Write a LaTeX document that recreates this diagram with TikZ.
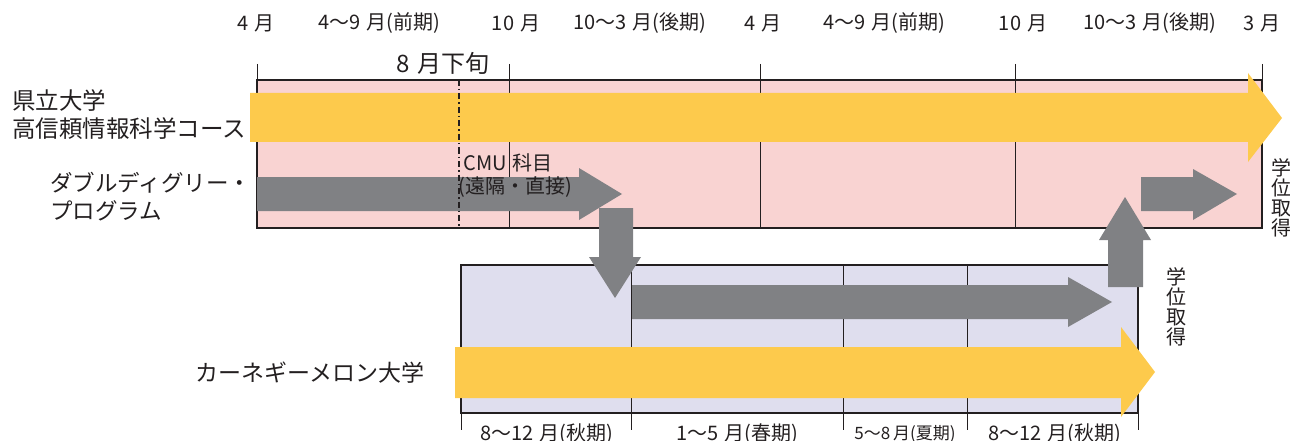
\documentclass[tikz,border=0pt]{standalone}
\usepackage{fontspec}
\setmainfont{Noto Sans CJK JP}
\definecolor{pinkbg}{HTML}{F9D3D2}
\definecolor{lavbg}{HTML}{DFDEEE}
\definecolor{yel}{HTML}{FDCA4C}
\definecolor{gry}{HTML}{808184}
\definecolor{ink}{HTML}{231F20}
\newcommand\gp{\hspace{0.3em}}
\begin{document}
\begin{tikzpicture}[x=1pt,y=-1pt,
  lbl/.style={inner sep=0pt,text=ink,font=\fontsize{20}{22}\selectfont},
  biglbl/.style={inner sep=0pt,text=ink,font=\fontsize{24}{26}\selectfont},
  sidelbl/.style={inner sep=0pt,text=ink,anchor=west,align=left,font=\fontsize{23.5}{28}\selectfont},
  vlbl/.style={inner sep=0pt,text=ink,align=center,font=\fontsize{20}{20}\selectfont},
  frame/.style={draw=ink,line width=1.8pt},
  thin/.style={draw=ink,line width=0.9pt},
  yarrow/.style={fill=yel},
  garrow/.style={fill=gry}]
\useasboundingbox (0,0) rectangle (1290,441);

% top month labels
\node[lbl] (t1) at (256,23) {4\gp 月};
\node[lbl] (t2) at (379,23) {4〜9\gp 月(前期)};
\node[lbl] (t3) at (516,23) {10\gp 月};
\node[lbl] (t4) at (640,23) {10〜3\gp 月(後期)};
\node[lbl] (t5) at (763,23) {4\gp 月};
\node[lbl] (t6) at (884,23) {4〜9\gp 月(前期)};
\node[lbl] (t7) at (1023,23) {10\gp 月};
\node[lbl] (t8) at (1150,23) {10〜3\gp 月(後期)};
\node[lbl] (t9) at (1262,23) {3\gp 月};
\node[biglbl] (aug) at (443,63) {8\gp 月下旬};

% upper box
\fill[pinkbg] (257,80) rectangle (1262,228);
\foreach \x in {509,760,1015} \draw[thin] (\x,64) -- (\x,228);
\foreach \x in {257,1262} \draw[thin] (\x,64) -- (\x,80);

% lower box
\fill[lavbg] (461,265) rectangle (1138,413);
\foreach \x in {631,843,967} \draw[thin] (\x,265) -- (\x,430);
\foreach \x in {461,1138} \draw[thin] (\x,413) -- (\x,430);
\draw[frame] (461,265) rectangle (1138,413);
\draw[frame] (257,80) rectangle (1262,228);

% arrows
\fill[yarrow] (250,93) -- (1248,93) -- (1248,73) -- (1282,118) -- (1248,162) -- (1248,142) -- (250,142) -- cycle;
\fill[garrow] (257,177) -- (579,177) -- (579,168) -- (622,194) -- (579,220) -- (579,211) -- (257,211) -- cycle;
\fill[garrow] (599,208) -- (633,208) -- (633,257) -- (641,257) -- (615,298) -- (589,257) -- (599,257) -- cycle;
\fill[garrow] (632,285) -- (1068,285) -- (1068,277) -- (1112,302) -- (1068,327) -- (1068,319) -- (632,319) -- cycle;
\fill[yarrow] (455,347) -- (1121,347) -- (1121,327) -- (1155,372) -- (1121,417) -- (1121,398) -- (455,398) -- cycle;
\fill[garrow] (1108,287) -- (1143,287) -- (1143,240) -- (1151,240) -- (1125,197) -- (1099,240) -- (1108,240) -- cycle;
\fill[garrow] (1141,177) -- (1193,177) -- (1193,169) -- (1237,194) -- (1193,220) -- (1193,211) -- (1141,211) -- cycle;

% 8月下旬 line
\draw[ink,line width=1.6pt,dash pattern=on 6pt off 3pt on 1.5pt off 3pt] (459,80) -- (459,228);

% texts
\node[sidelbl] (ken) at (12,115) {県立大学\\高信頼情報科学コース};
\node[sidelbl,font=\fontsize{22.5}{28}\selectfont] (dd) at (50,197) {ダブルディグリー・\\プログラム};
\node[sidelbl,font=\fontsize{23}{28}\selectfont] (cmu) at (195,373) {カーネギーメロン大学};
\node[lbl] (cmus) at (508,163) {CMU\gp 科目};
\node[lbl] (enk) at (515,187) {(遠隔・直接)};
\node[vlbl] (deg1) at (1281,198) {学\\位\\取\\得};
\node[vlbl] (deg2) at (1176,307) {学\\位\\取\\得};

% bottom labels
\node[lbl] (b1) at (547,434) {8〜12\gp 月(秋期)};
\node[lbl] (b2) at (737,434) {1〜5\gp 月(春期)};
\node[lbl,font=\fontsize{17}{18}\selectfont] (b3) at (905,434) {5〜8\,月(夏期)};
\node[lbl] (b4) at (1055,434) {8〜12\gp 月(秋期)};
\end{tikzpicture}
\end{document}
